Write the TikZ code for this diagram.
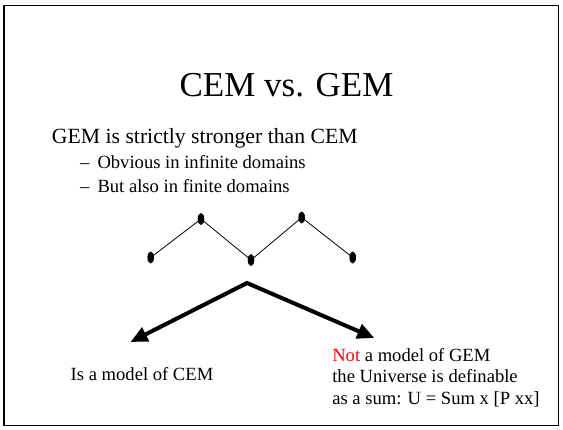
\documentclass[tikz,border=0pt]{standalone}
\usepackage{fontspec}
\setmainfont{Liberation Serif}
\usetikzlibrary{arrows.meta,shapes.geometric}

\tikzset{
  frame/.style={draw=black, line width=1.8pt},
  txt/.style={anchor=base west, inner sep=0pt, outer sep=0pt},
  titletxt/.style={anchor=base, inner sep=0pt, font=\fontsize{35}{42}\selectfont},
  headtxt/.style={txt, font=\fontsize{21.7}{26}\selectfont},
  subtxt/.style={txt, font=\fontsize{18.6}{22}\selectfont},
  dot/.style={ellipse, fill=black, draw=none, minimum width=6.6pt, minimum height=12pt, inner sep=0pt},
  edge/.style={draw=black, line width=0.8pt},
  bigarrow/.style={draw=black, line width=4pt, line join=miter,
    arrows={Triangle[length=17pt,width=15pt]-Triangle[length=17pt,width=15pt]}}
}

\begin{document}
\begin{tikzpicture}[x=1pt, y=-1pt]
  \useasboundingbox (0,0) rectangle (563,429);
  \fill[white] (0,0) rectangle (563,429);

  % slide frame
  \draw[frame] (3.8,5.5) rectangle (558.5,425.5);

  % title and bullet text
  \node[titletxt] (title) at (286.5,96) {CEM vs. GEM};
  \node[headtxt] (claim) at (52,143) {GEM is strictly stronger than CEM};
  \node[subtxt] (dashA) at (80,168) {–};
  \node[subtxt] (itemA) at (97.5,168) {Obvious in infinite domains};
  \node[subtxt] (dashB) at (80,192) {–};
  \node[subtxt] (itemB) at (97.5,192) {But also in finite domains};

  % the five-element order
  \node[dot] (d1) at (150.7,257.5) {};
  \node[dot] (d2) at (201,219) {};
  \node[dot] (d3) at (251,260) {};
  \node[dot] (d4) at (301.7,217.5) {};
  \node[dot] (d5) at (352.7,257.5) {};
  \draw[edge] (d1.center) -- (d2.center) -- (d3.center) -- (d4.center) -- (d5.center);

  % branching arrows
  \coordinate (apex) at (247,283);
  \coordinate (leftend) at (130.5,342);
  \coordinate (rightend) at (374.3,338);
  \draw[bigarrow] (leftend) -- (apex) -- (rightend);

  % conclusions
  \node[subtxt] (cem) at (70.7,380) {Is a model of CEM};
  \node[subtxt] (gem1) at (332.3,361) {\textcolor{red}{Not} a model of GEM};
  \node[subtxt] (gem2) at (332.3,382.5) {the Universe is definable};
  \node[subtxt] (gem3) at (332.3,404) {as a sum: U = Sum x [P xx]};
\end{tikzpicture}
\end{document}
